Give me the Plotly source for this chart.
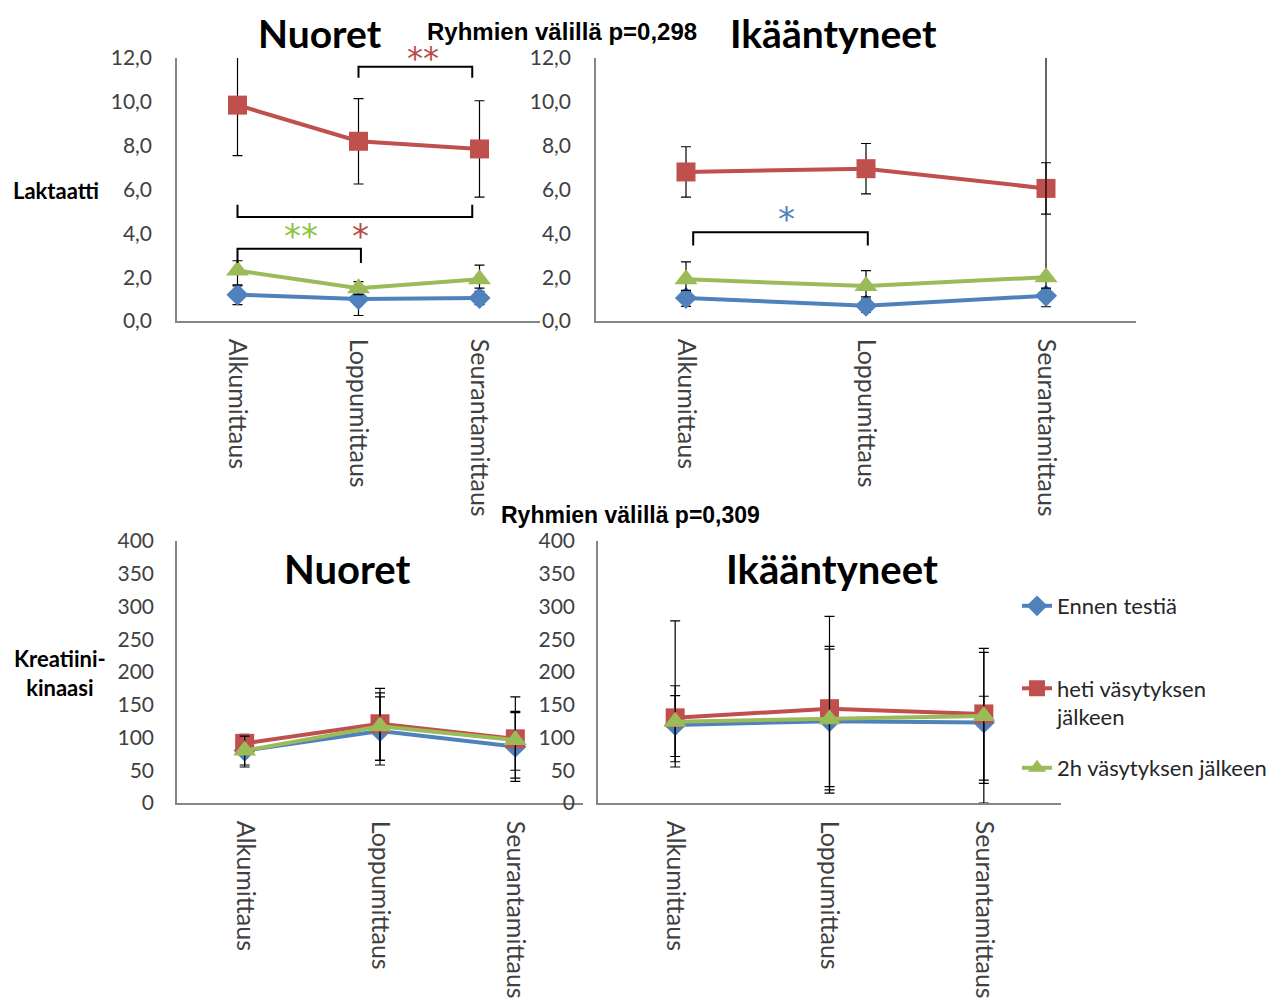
import plotly.graph_objects as go

W, H = 1285, 1003
OFF = 8  # page body margin
categories = ["Alkumittaus", "Loppumittaus", "Seurantamittaus"]
series_names = ["Ennen testiä", "heti väsytyksen<br>jälkeen", "2h väsytyksen jälkeen"]
colors = ["#4F81BD", "#C0504D", "#9BBB59"]
symbols = ["diamond", "square", "triangle-up"]
msizes = [17, 19, 20]

# Laktaatti - Nuoret
lak_nuo = [[1.2, 1.0, 1.05], [9.85, 8.2, 7.85], [2.3, 1.5, 1.9]]
lak_nuo_ep = [[0.4, 0.4, 0.3], [2.3, 1.95, 2.2], [0.45, 0.3, 0.65]]
lak_nuo_em = [[0.45, 0.75, 0.3], [2.3, 1.95, 2.2], [0.65, 0.3, 0.4]]
# Laktaatti - Ikääntyneet
lak_ika = [[1.05, 0.7, 1.15], [6.8, 6.95, 6.05], [1.9, 1.6, 2.0]]
lak_ika_ep = [[0.3, 0.3, 0.3], [1.15, 1.15, 1.17], [0.8, 0.7, 10.5]]
lak_ika_em = [[0.38, 0.3, 0.5], [1.15, 1.15, 1.17], [0.5, 0.5, 0.5]]
# Kreatiinikinaasi - Nuoret
ck_nuo = [[80, 110, 86], [91, 121, 98], [80, 117, 96]]
ck_nuo_ep = [[24, 52, 52], [14, 54, 64], [22, 51, 44]]
ck_nuo_em = [[25, 52, 53], [16, 56, 60], [22, 52, 46]]
# Kreatiinikinaasi - Ikääntyneet
ck_ika = [[119, 125, 123], [130, 144, 136], [124, 128, 133]]
ck_ika_ep = [[60, 110, 40], [148, 141, 100], [40, 111, 97]]
ck_ika_em = [[64, 110, 123], [67, 119, 101], [53, 108, 103]]

font_main = "Lato"
ytick_font = dict(family=font_main, size=21, color="#404040")
xtick_font = dict(family=font_main, size=25, color="#404040")

fig = go.Figure()

panels = [
    ("x", "y", lak_nuo, lak_nuo_ep, lak_nuo_em),
    ("x2", "y2", lak_ika, lak_ika_ep, lak_ika_em),
    ("x3", "y3", ck_nuo, ck_nuo_ep, ck_nuo_em),
    ("x4", "y4", ck_ika, ck_ika_ep, ck_ika_em),
]
legends = ["legend", "legend2", "legend3"]
for pi, (xa, ya, vals, ep, em) in enumerate(panels):
    for si in range(3):
        fig.add_trace(go.Scatter(
            x=categories, y=vals[si], xaxis=xa, yaxis=ya,
            mode="lines+markers", name=series_names[si],
            line=dict(color=colors[si], width=4),
            marker=dict(color=colors[si], symbol=symbols[si], size=msizes[si]),
            error_y=dict(type="data", symmetric=False, array=ep[si], arrayminus=em[si],
                         color="black", thickness=1.2, width=5),
            showlegend=(pi == 0), legend=legends[si],
        ))

def fx(p):
    return (p - OFF) / W

def fy(p):
    return 1 - (p - OFF) / H

def px_x(a, b):
    return [fx(a), fx(b)]

def px_y(top, bottom):
    return [fy(bottom), fy(top)]

axis_common = dict(showgrid=False, zeroline=False, showline=True, linecolor="#868686",
                   linewidth=1.5, ticks="", automargin=False)
xcommon = dict(axis_common, tickangle=90, range=[-0.5, 2.5], type="category",
               ticklabelstandoff=11, tickfont=xtick_font)
ycommon = dict(axis_common, tickfont=ytick_font)

fig.update_layout(
    template="none",
    width=W, height=H, margin=dict(l=0, r=0, t=0, b=0, autoexpand=False),
    paper_bgcolor="white", plot_bgcolor="white", separators=", ",
    xaxis=dict(xcommon, domain=px_x(177, 540), anchor="y"),
    yaxis=dict(ycommon, domain=px_y(58, 321), range=[0, 12], tickvals=[0, 2, 4, 6, 8, 10, 12],
               tickformat=".1f", anchor="x", ticklabelstandoff=19),
    xaxis2=dict(xcommon, domain=px_x(596, 1136), anchor="y2"),
    yaxis2=dict(ycommon, domain=px_y(58, 321), range=[0, 12], tickvals=[0, 2, 4, 6, 8, 10, 12],
                tickformat=".1f", anchor="x2", ticklabelstandoff=19),
    xaxis3=dict(xcommon, domain=px_x(177, 583), anchor="y3"),
    yaxis3=dict(ycommon, domain=px_y(541, 803), range=[0, 400], dtick=50,
                anchor="x3", ticklabelstandoff=17),
    xaxis4=dict(xcommon, domain=px_x(598, 1061), anchor="y4"),
    yaxis4=dict(ycommon, domain=px_y(541, 803), range=[0, 400], dtick=50,
                anchor="x4", ticklabelstandoff=17),
)

leg_common = dict(xanchor="left", yanchor="middle", bgcolor="rgba(0,0,0,0)",
                  font=dict(family=font_main, size=22, color="#262626"), valign="top")
LX = 1017
fig.update_layout(
    legend=dict(leg_common, x=fx(LX), y=fy(606)),
    legend2=dict(leg_common, x=fx(LX), y=fy(703)),
    legend3=dict(leg_common, x=fx(LX), y=fy(768)),
)

# brackets
blk = dict(color="black", width=2)
def bracket(xref, yref, x0, x1, ybar, yleg):
    fig.add_shape(type="path", xref=xref, yref=yref,
                  path=f"M {x0},{yleg} L {x0},{ybar} L {x1},{ybar} L {x1},{yleg}",
                  line=blk)

bracket("x", "y", 1, 1.94, 11.6, 11.1)
bracket("x", "y", 0, 1.94, 4.75, 5.3)
bracket("x", "y", 0, 1.02, 3.3, 2.65)
bracket("x2", "y2", 0.04, 1.01, 4.05, 3.45)

def ast(xp, yp, text, color, size=34):
    fig.add_annotation(x=fx(xp), y=fy(yp), xref="paper", yref="paper", text=text,
                       showarrow=False, xanchor="center", yanchor="middle",
                       font=dict(family="DejaVu Sans", size=size, color=color))

ast(423, 58, "**", "#B94A48", 32)
ast(301, 236, "**", "#8CC63F")
ast(360, 236, "*", "#B94A48")
ast(786, 219, "*", "#4F81BD")

# titles
def ptext(xp, yp, text, size, family=font_main, bold=True, color="black", yanchor="middle"):
    fig.add_annotation(x=fx(xp), y=min(1.0, fy(yp)), xref="paper", yref="paper",
                       text=f"<b>{text}</b>" if bold else text, showarrow=False,
                       font=dict(family=family, size=size, color=color),
                       xanchor="center", yanchor=yanchor)

ptext(320, 8, "Nuoret", 39, yanchor="top")
ptext(833, 8, "Ikääntyneet", 39, yanchor="top")
ptext(562, 31, "Ryhmien välillä p=0,298", 24, family="Liberation Sans")
ptext(630, 515, "Ryhmien välillä p=0,309", 23, family="Liberation Sans")
ptext(347, 569, "Nuoret", 40)
ptext(832, 569, "Ikääntyneet", 40)
ptext(56, 190, "Laktaatti", 22)
ptext(60, 673, "Kreatiini-<br>kinaasi", 22)

fig.write_html("out.html")
